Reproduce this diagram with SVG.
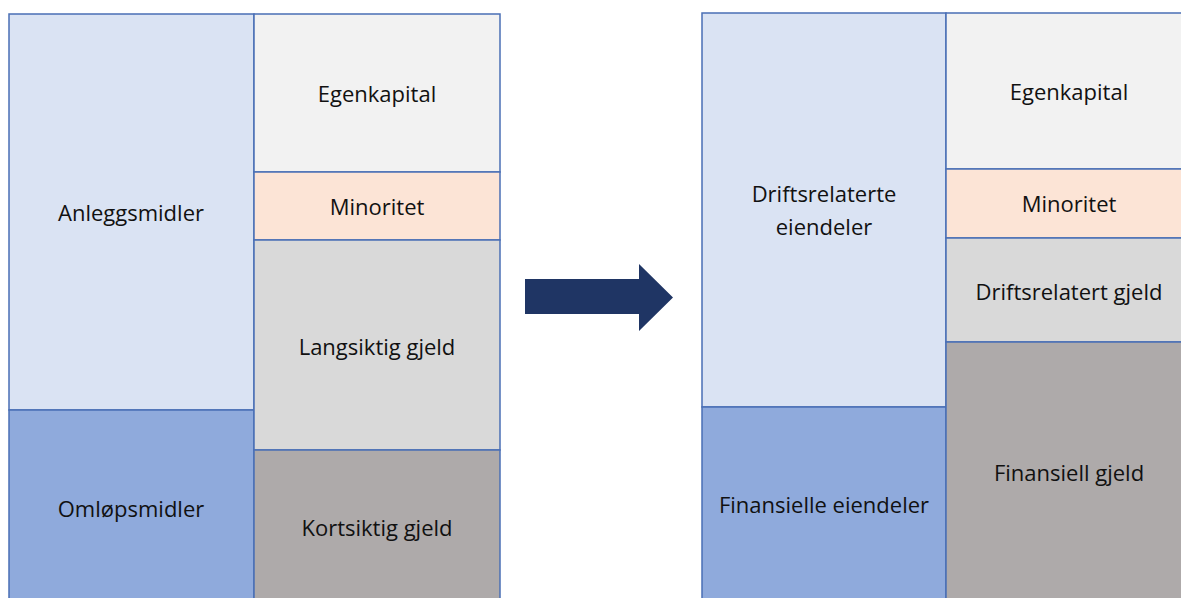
<svg xmlns="http://www.w3.org/2000/svg" width="1181" height="598" viewBox="0 0 1181 598">
  <style>
    .box { stroke: #4a6fb5; stroke-width: 1.5; }
    .lblue { fill: #dae3f3; }
    .dblue { fill: #8faadc; }
    .equity { fill: #f2f2f2; }
    .minor { fill: #fce4d6; }
    .lgrey { fill: #d9d9d9; }
    .dgrey { fill: #aeaaaa; }
    text { font-family: "Open Sans", "Liberation Sans", sans-serif; font-size: 22px; fill: #111111; text-anchor: middle; dominant-baseline: central; }
  </style>
  <rect width="1181" height="598" fill="#ffffff"/>

  <!-- Traditional balance sheet -->
  <g id="anleggsmidler"><rect class="box lblue" x="9" y="14" width="245" height="396"/><text x="131" y="212">Anleggsmidler</text></g>
  <g id="omlopsmidler"><rect class="box dblue" x="9" y="410" width="245" height="192"/><text x="131" y="508">Omløpsmidler</text></g>
  <g id="egenkapital-1"><rect class="box equity" x="254" y="14" width="246" height="158"/><text x="377" y="93">Egenkapital</text></g>
  <g id="minoritet-1"><rect class="box minor" x="254" y="172" width="246" height="68"/><text x="377" y="206">Minoritet</text></g>
  <g id="langsiktig-gjeld"><rect class="box lgrey" x="254" y="240" width="246" height="210"/><text x="377" y="346">Langsiktig gjeld</text></g>
  <g id="kortsiktig-gjeld"><rect class="box dgrey" x="254" y="450" width="246" height="152"/><text x="377" y="527">Kortsiktig gjeld</text></g>

  <!-- Transition arrow -->
  <g id="connectors">
    <polygon points="525,279 639,279 639,264 673,297.5 639,331 639,314 525,314" fill="#1f3564"/>
  </g>

  <!-- Reorganised balance sheet -->
  <g id="driftsrelaterte-eiendeler"><rect class="box lblue" x="702" y="13" width="244" height="394"/><text x="824" y="193">Driftsrelaterte</text><text x="824" y="226">eiendeler</text></g>
  <g id="finansielle-eiendeler"><rect class="box dblue" x="702" y="407" width="244" height="195"/><text x="824" y="504">Finansielle eiendeler</text></g>
  <g id="egenkapital-2"><rect class="box equity" x="946" y="13" width="240" height="156"/><text x="1069" y="91">Egenkapital</text></g>
  <g id="minoritet-2"><rect class="box minor" x="946" y="169" width="240" height="69"/><text x="1069" y="203">Minoritet</text></g>
  <g id="driftsrelatert-gjeld"><rect class="box lgrey" x="946" y="238" width="240" height="104"/><text x="1069" y="291">Driftsrelatert gjeld</text></g>
  <g id="finansiell-gjeld"><rect class="box dgrey" x="946" y="342" width="240" height="260"/><text x="1069" y="472">Finansiell gjeld</text></g>
</svg>
